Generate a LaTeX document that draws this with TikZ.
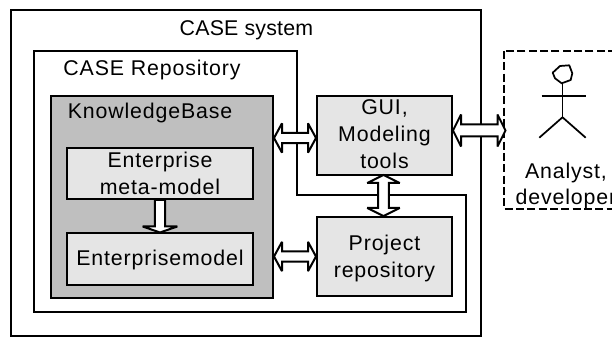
\documentclass[tikz,border=0pt]{standalone}
\usepackage{fontspec}
\setmainfont{Liberation Sans}[LetterSpace=4]
\usetikzlibrary{calc}
\tikzset{
  px/.style={x=0.75pt,y=-0.75pt},
  box/.style={draw=black,line width=1.5pt,rectangle,anchor=center,inner sep=0pt,align=center,font=\fontsize{16}{20}\selectfont},
  lightbox/.style={box,fill=black!10},
  label/.style={inner sep=0pt,font=\fontsize{16}{20}\selectfont,align=center},
  frame/.style={draw=black,line width=1.5pt},
  arrowedge/.style={draw=black,fill=white,line width=1.5pt,line join=miter,miter limit=3},
  stick/.style={draw=black,line width=1.3pt}
}
% #3 shaft half width, #4 barb half width (pt)
\newcommand{\hollowdouble}[4]{%
  \path (#1) coordinate (S) (#2) coordinate (T);
  \path ($(S)!6pt!(T)$) coordinate (A) ($(T)!6pt!(S)$) coordinate (B);
  \draw[arrowedge] (S) -- ($(A)!#4!90:(T)$) -- ($(A)!#3!90:(T)$)
    -- ($(B)!#3!-90:(S)$) -- ($(B)!#4!-90:(S)$) -- (T)
    -- ($(B)!#4!90:(S)$) -- ($(B)!#3!90:(S)$)
    -- ($(A)!#3!-90:(T)$) -- ($(A)!#4!-90:(T)$) -- cycle;
}
\newcommand{\hollowsingle}[2]{%
  \path (#1) coordinate (S) (#2) coordinate (T);
  \path ($(T)!4.5pt!(S)$) coordinate (B);
  \draw[arrowedge] (S) -- ($(S)!3.8pt!90:(T)$) -- ($(B)!3.8pt!-90:(S)$)
    -- ($(B)!13pt!-90:(S)$) -- (T) -- ($(B)!13pt!90:(S)$) -- ($(B)!3.8pt!90:(S)$)
    -- ($(S)!3.8pt!-90:(T)$) -- cycle;
}
\begin{document}
\begin{tikzpicture}[px]
\useasboundingbox (0,0) rectangle (612,338);
\clip (0,0) rectangle (612,338);
% outer frames
\draw[frame] (11,10) rectangle (480.5,336.5);
\draw[frame] (33.5,51) -- (297,51) -- (297,195) -- (465.5,195) -- (465.5,312) -- (33.5,312) -- cycle;
\draw[frame,dashed,dash pattern=on 6pt off 2.5pt] (504,51) rectangle (640,209);
\node[label] (sys) at (246.5,30) {\addfontfeature{LetterSpace=1}CASE system};
\node[label] (repo) at (152,70) {CASE Repository};
% knowledge base
\node[box,fill=black!25,minimum width=222pt*0.75,minimum height=202pt*0.75] (kb) at (162,197) {};
\node[label] (kbl) at (150,113) {KnowledgeBase};
\node[lightbox,minimum width=186pt*0.75,minimum height=51pt*0.75] (meta) at (160,173.5) {Enterprise\\meta-model};
\node[lightbox,minimum width=186pt*0.75,minimum height=52pt*0.75] (model) at (160,259.5) {Enterprisemodel};
\node[lightbox,minimum width=135pt*0.75,minimum height=79pt*0.75] (gui) at (384.5,135.5) {GUI,\\Modeling\\tools\rule[-2pt]{0pt}{2pt}};
\node[lightbox,minimum width=135pt*0.75,minimum height=79pt*0.75] (proj) at (384.5,256.5) {\rule{0pt}{15pt}Project\\repository};
% actor
\coordinate (hip) at (562.5,117.3);
\coordinate (neck) at (562.5,83);
\draw[stick,line join=round] (560,66) -- (569.3,65.3) -- (572.3,73.3) -- (570.7,80) -- (561.7,83.3) -- (555,78.3) -- (552.7,72.7) -- cycle;
\draw[stick] (neck) -- (hip);
\coordinate (armL) at (541.7,96);
\coordinate (armR) at (585.7,96);
\coordinate (legL) at (539.3,137.7);
\coordinate (legR) at (585.7,137.7);
\draw[stick] (armL) -- (armR);
\draw[stick] (legL) -- (hip) -- (legR);
\node[label] (who) at (566,186) {Analyst,\\developer};
% arrows
\coordinate (kbguiS) at ($(kb.east |- gui.west)+(0,2.5)$);
\coordinate (kbguiT) at ($(gui.west)+(0,2.5)$);
\coordinate (kbproj) at (kb.east |- proj.west);
\hollowdouble{kbguiS}{kbguiT}{3.8pt}{11pt}
\hollowdouble{kbproj}{proj.west}{3.8pt}{11pt}
\coordinate (vS) at ($(gui.south)+(-1,-1)$);
\coordinate (vT) at ($(proj.north)+(-1,0)$);
\hollowdouble{vS}{vT}{4pt}{12.2pt}
\coordinate (guiO) at ($(gui.east)+(0,-5)$);
\coordinate (actO) at (505.5,130.5);
\hollowdouble{guiO}{actO}{4.5pt}{12pt}
\hollowsingle{meta.south}{model.north}
\end{tikzpicture}
\end{document}
